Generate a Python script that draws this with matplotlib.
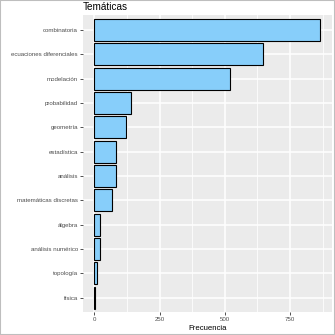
import matplotlib
matplotlib.use("Agg")
import matplotlib.pyplot as plt
from matplotlib.patches import Rectangle
import numpy as np

temas = ['combinatoria', 'ecuaciones diferenciales', 'modelación', 'probabilidad',
         'geometría', 'estadística', 'análisis', 'matemáticas discretas',
         'álgebra', 'análisis numérico', 'topología', 'física']
frecuencia = [866, 646, 518, 140, 121, 82, 82, 66, 20, 20, 9, 1]
xticks = [0, 250, 500, 750]

plt.rcParams['font.family'] = ['Liberation Sans', 'DejaVu Sans']

fig = plt.figure(figsize=(3.35, 3.35), dpi=100)
ax = fig.add_axes([0.2478, 0.0678, 0.7422, 0.8862])
ax.set_facecolor('#EBEBEB')

y = np.arange(len(temas))[::-1]
ax.barh(y, frecuencia, height=0.9, color='#87CEFA', edgecolor='black', linewidth=0.8, zorder=3)

xmax = max(frecuencia)
ax.set_xlim(-0.05 * xmax, 1.05 * xmax)
ax.set_ylim(-0.6, len(temas) - 0.4)

ax.set_xticks(xticks)
ax.set_xticks([125, 375, 625, 875], minor=True)
ax.set_yticks(y)
ax.set_yticklabels(temas)
ax.grid(which='major', color='white', linewidth=1.1, zorder=0)
ax.grid(which='minor', axis='x', color='white', linewidth=0.55, zorder=0)
ax.set_axisbelow(True)
for s in ax.spines.values():
    s.set_visible(False)
ax.tick_params(axis='both', which='major', length=2.2, width=0.6, color='#333333',
               labelsize=4.4, labelcolor='#4D4D4D', pad=1.5)
ax.tick_params(axis='both', which='minor', length=0)

ax.set_xlabel('Frecuencia', fontsize=5.6, color='black', labelpad=1.5)
fig.text(0.2478, 0.979, 'Temáticas', fontsize=7.2, ha='left', va='center', color='black')

fig.patches.append(Rectangle((0, 0), 1, 1, transform=fig.transFigure, fill=False,
                             edgecolor='#BEBEBE', linewidth=1.5))

fig.savefig('out.png', dpi=100)
